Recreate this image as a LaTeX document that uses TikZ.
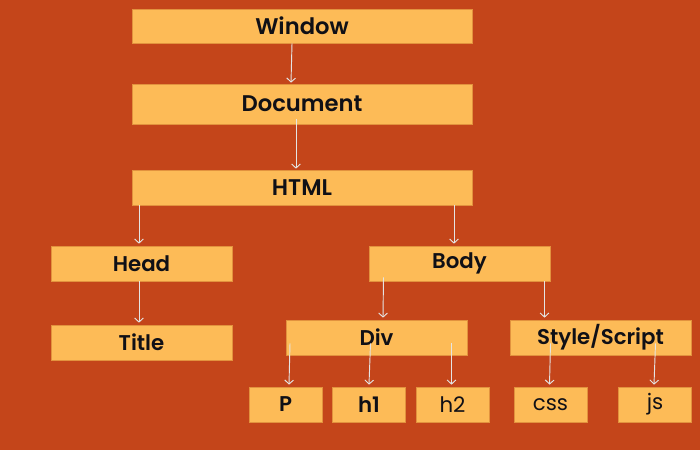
\documentclass[tikz,border=0pt]{standalone}
\usepackage{fontspec}
\setmainfont{Poppins}[BoldFont=* SemiBold]
\usetikzlibrary{arrows.meta,calc}

\definecolor{bgrust}{RGB}{196,69,26}
\definecolor{boxfill}{RGB}{253,187,87}
\definecolor{boxedge}{RGB}{226,146,62}
\definecolor{arrline}{RGB}{228,228,228}
\definecolor{txtdark}{RGB}{16,16,22}

\tikzset{every picture/.style={line width=0.75pt}}
\tikzset{
	dom box/.style={draw=boxedge, fill=boxfill, line width=0.5pt, inner sep=0pt, text=txtdark, minimum height=26.25pt, font=\bfseries\fontsize{16}{19}\selectfont},
	wide box/.style={dom box, minimum width=255pt, font=\bfseries\fontsize{17}{20}\selectfont},
	mid box/.style={dom box, minimum width=135.75pt},
	leaf box/.style={dom box, minimum width=55pt},
	light/.style={font=\fontsize{16}{19}\selectfont},
	arr/.style={draw=arrline, line width=0.7pt, -{Straight Barb[length=3pt,width=6.5pt]}}
}

\begin{document}
\begin{tikzpicture}[x=0.75pt,y=0.75pt,yscale=-1,xscale=1]
	%Background
	\fill [bgrust] (0,0) rectangle (700,450);

	%Shape: Rectangle (tree boxes)
	\node [wide box, minimum height=25.5pt] (win) at (302,26) {Window};
	\node [wide box, minimum height=30pt] (doc) at (302,104) {Document};
	\node [wide box] (html) at (302,187.5) {HTML};
	\node [mid box] (head) at (141.5,263.5) {Head};
	\node [mid box] (title) at (141.5,342.5) {Title};
	\node [mid box] (body) at (459.5,263.5) {Body};
	\node [mid box] (div) at (376.5,337.5) {Div};
	\node [mid box] (style) at (600.5,337.5) {Style/Script};
	\node [leaf box] (p) at (285.5,404.5) {P};
	\node [leaf box] (hone) at (369,404.5) {h1};
	\node [leaf box, light] (htwo) at (452.5,404.5) {h2};
	\node [leaf box, light] (css) at (550.5,404.5) {css};
	\node [leaf box, light] (js) at (655,404.5) {js};

	%Straight Lines
	\draw [arr] ($(win.south)+(-10,0)$) -- ($(doc.north)+(-11,-1)$);
	\draw [arr] ($(doc.south)+(-6,-5)$) -- ($(html.north)+(-6,-1)$);
	\draw [arr] ($(html.south)+(-163,0)$) -- ($(head.north)+(-2.5,-2)$);
	\draw [arr] ($(html.south)+(152,0)$) -- ($(body.north)+(-5.5,-2)$);
	\draw [arr] ($(head.south)+(-2.5,0)$) -- ($(title.north)+(-2.5,-2)$);
	\draw [arr] ($(body.south)+(-76,-4)$) -- ($(div.north)+(6.5,-2)$);
	\draw [arr] ($(body.south)+(85,0)$) -- ($(style.north)+(-56,-2)$);
	\draw [arr] ($(div.south)+(-86.5,-12)$) -- ($(p.north)+(3.5,-2)$);
	\draw [arr] ($(div.south)+(-6,-12)$) -- ($(hone.north)+(0,-2)$);
	\draw [arr] ($(div.south)+(75,-12)$) -- ($(htwo.north)+(-1,-2)$);
	\draw [arr] ($(style.south)+(-50,-12)$) -- ($(css.north)+(-1,-2)$);
	\draw [arr] ($(style.south)+(55,-12)$) -- ($(js.north)+(-1,-2)$);

\end{tikzpicture}
\end{document}
